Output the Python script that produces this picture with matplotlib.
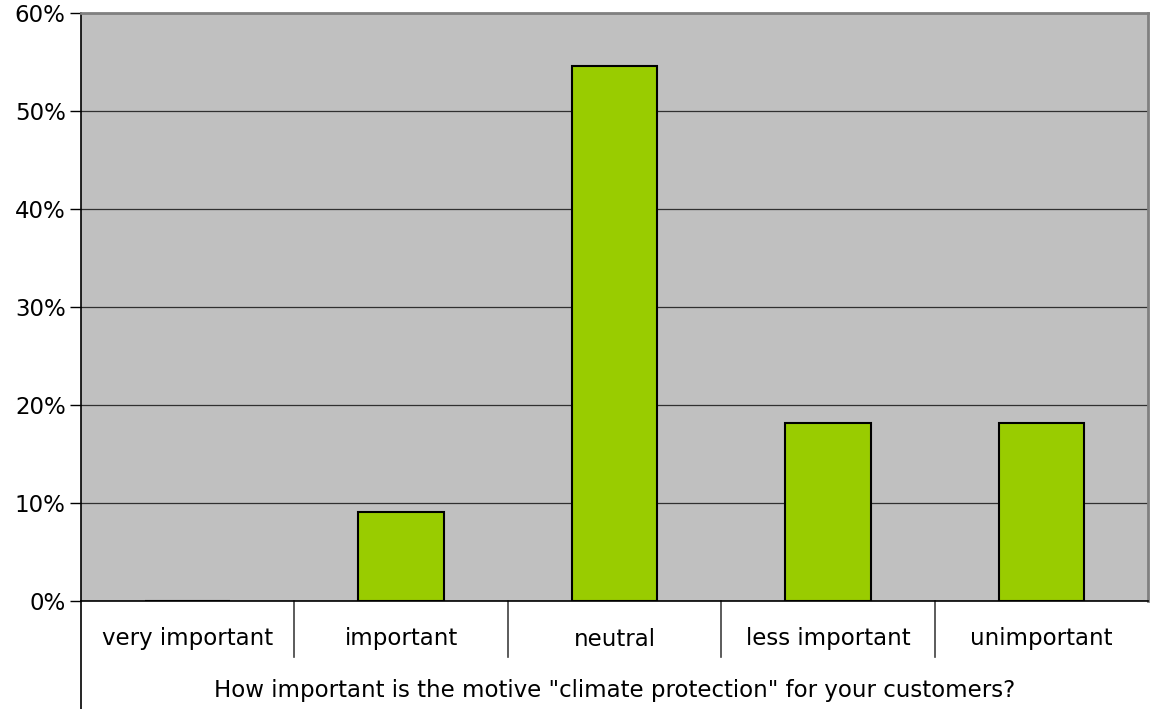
import matplotlib
matplotlib.use("Agg")
from matplotlib import pyplot as plt

categories = ["very important", "important", "neutral", "less important", "unimportant"]
shares = [0.0, 9.09, 54.55, 18.18, 18.18]
yticks = [0, 10, 20, 30, 40, 50, 60]
question = 'How important is the motive "climate protection" for your customers?'

W, H = 1150, 709
L, R, T, B = 81, 1148, 13, 601


def main():
	fig = plt.figure(figsize=(W / 100, H / 100), dpi=100)
	ax = fig.add_axes([L / W, (H - B) / H, (R - L) / W, (B - T) / H])
	ax.set_facecolor("#c0c0c0")

	x = list(range(len(categories)))
	ax.bar(x, shares, width=0.4, color="#99cc00", edgecolor="black", linewidth=1.5, zorder=3)

	ax.set_xlim(-0.5, len(categories) - 0.5)
	ax.set_ylim(0, 60)
	ax.set_yticks(yticks)
	ax.set_yticklabels([f"{v}%" for v in yticks], fontsize=16.5)
	ax.tick_params(axis="y", direction="out", length=8, width=1, pad=3, color="black")
	ax.set_xticks([])
	ax.yaxis.grid(True, color="#303030", linewidth=0.9, zorder=1)
	ax.set_axisbelow(True)

	for s in ["top", "right"]:
		ax.spines[s].set_color("#808080")
		ax.spines[s].set_linewidth(2)
	ax.spines["left"].set_color("black")
	ax.spines["bottom"].set_color("black")
	ax.spines["left"].set_linewidth(1.2)
	ax.spines["bottom"].set_linewidth(1.2)

	px = 1.0 / (B - T)
	tr = ax.get_xaxis_transform()
	# category dividers below the axis
	for i in range(len(categories) - 1):
		ax.plot([i + 0.5, i + 0.5], [0, -56 * px], color="#404040", lw=1.2,
			transform=tr, clip_on=False)
	# outer left line down to the bottom edge
	ax.plot([-0.5, -0.5], [0, -110 * px], color="black", lw=1.2,
		transform=tr, clip_on=False)

	for i, c in enumerate(categories):
		ax.text(i, -38 * px, c, transform=tr, ha="center", va="center", fontsize=16.5)
	ax.text((len(categories) - 1) / 2, -90 * px, question, transform=tr,
		ha="center", va="center", fontsize=16.5)

	fig.savefig("out.png", dpi=100)


if __name__ == '__main__':
	main()
